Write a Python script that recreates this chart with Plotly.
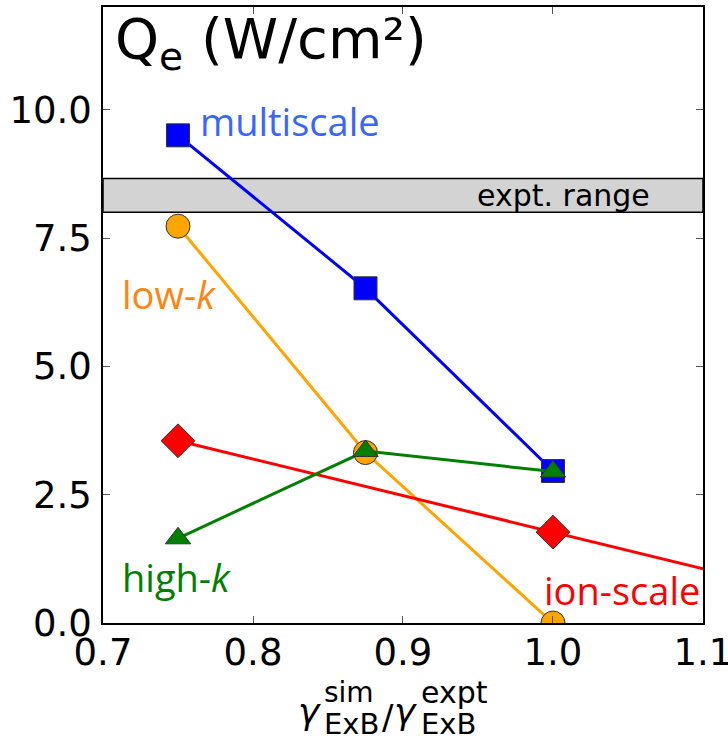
import plotly.graph_objects as go

# ---------------- data ----------------
x_vals = [0.75, 0.875, 1.0]
multiscale = [9.5, 6.52, 2.96]
low_k = [7.73, 3.32, 0.0]
high_k = [1.65, 3.35, 2.95]
ion_x = [0.75, 1.0, 1.25]
ion_scale = [3.55, 1.77, -0.01]
expt_range = [8.0, 8.66]

x_ticks = [0.7, 0.8, 0.9, 1.0, 1.1]
x_ticktext = ["0.7", "0.8", "0.9", "1.0", "1.1"]
y_ticks = [0.0, 2.5, 5.0, 7.5, 10.0]
y_ticktext = ["0.0", "2.5", "5.0", "7.5", "10.0"]

W, H = 728, 740
L, R, T, B = 103, 25, 7, 117
PW, PH = W - L - R, H - T - B


def px(xp):
    return (xp - L) / PW


def py(yp):
    return (H - B - yp) / PH


fig = go.Figure()

edge = dict(color="#333333", width=1)
fig.add_trace(go.Scatter(x=x_vals, y=low_k, mode="lines+markers",
                         line=dict(color="#ffa500", width=3),
                         marker=dict(symbol="circle", size=24, color="#ffa500", line=edge),
                         cliponaxis=True, showlegend=False))
fig.add_trace(go.Scatter(x=ion_x, y=ion_scale, mode="lines+markers",
                         line=dict(color="#ff0000", width=3),
                         marker=dict(symbol="diamond", size=26, color="#ff0000", line=edge),
                         cliponaxis=True, showlegend=False))
fig.add_trace(go.Scatter(x=x_vals, y=multiscale, mode="lines+markers",
                         line=dict(color="#0000ff", width=3),
                         marker=dict(symbol="square", size=23, color="#0000ff", line=edge),
                         cliponaxis=True, showlegend=False))
fig.add_trace(go.Scatter(x=x_vals, y=high_k, mode="lines+markers",
                         line=dict(color="#008000", width=3),
                         marker=dict(symbol="triangle-up", size=22, color="#008000", line=edge),
                         cliponaxis=True, showlegend=False))

fig.add_shape(type="rect", xref="paper", yref="y", x0=0, x1=1,
              y0=expt_range[0], y1=expt_range[1],
              fillcolor="#d3d3d3", line=dict(color="black", width=1.5), layer="below")

lab_font = "Open Sans"
annos = [
    dict(x=0.763, y=9.77, text="multiscale", color="#3a66ff", xanchor="left"),
    dict(x=0.711, y=6.4, text="low-<i>k</i>", color="#ff8410", xanchor="left"),
    dict(x=0.711, y=0.9, text="high-<i>k</i>", color="#008000", xanchor="left"),
    dict(x=1.0995, y=0.64, text="ion-scale", color="#ff0000", xanchor="right"),
]
for a in annos:
    fig.add_annotation(x=a["x"], y=a["y"], xref="x", yref="y", text=a["text"],
                       showarrow=False, xanchor=a["xanchor"], yanchor="middle",
                       font=dict(family=lab_font, size=38, color=a["color"]))

fig.add_annotation(x=1.0073, y=sum(expt_range) / 2, xref="x", yref="y",
                   text="expt. range", showarrow=False, xanchor="center", yanchor="middle",
                   font=dict(family="DejaVu Sans", size=30, color="black"))

# Title inside plot
fig.add_annotation(x=px(113), y=py(43), xref="paper", yref="paper",
                   text="Q<sub>e</sub> (W/cm²)", showarrow=False,
                   xanchor="left", yanchor="middle",
                   font=dict(family="DejaVu Sans", size=56, color="black"))

# x axis title pieces: gamma^sim_ExB / gamma^expt_ExB
mfont = "DejaVu Sans"
pieces = [
    ("<i>γ</i>", 296, 711, 36),
    ("sim", 322, 693, 28),
    ("ExB", 322, 724, 29),
    ("/", 380, 717, 34),
    ("<i>γ</i>", 392, 711, 36),
    ("expt", 419, 693, 30),
    ("ExB", 419, 724, 29),
]
for t, xp, yp, fs in pieces:
    fig.add_annotation(x=px(xp), y=py(yp), xref="paper", yref="paper", text=t,
                       showarrow=False, xanchor="left", yanchor="middle",
                       font=dict(family=mfont, size=fs, color="black"))

axis_common = dict(showline=True, linecolor="black", linewidth=1.5, mirror="ticks",
                   ticks="inside", ticklen=7, tickcolor="#555555", tickwidth=1,
                   showgrid=False, zeroline=False, ticklabeloverflow="allow",
                   automargin=False,
                   tickfont=dict(family="DejaVu Sans", size=37, color="black"))

fig.update_xaxes(range=[0.7, 1.10001], tickvals=x_ticks, ticktext=x_ticktext,
                 ticklabelstandoff=-4, **axis_common)
fig.update_yaxes(range=[0, 12], tickvals=y_ticks, ticktext=y_ticktext,
                 ticklabelstandoff=2, **axis_common)

fig.update_layout(width=W, height=H, margin=dict(l=L, r=R, t=T, b=B, pad=0),
                  plot_bgcolor="white", paper_bgcolor="white", showlegend=False)

fig.write_html("out.html")
